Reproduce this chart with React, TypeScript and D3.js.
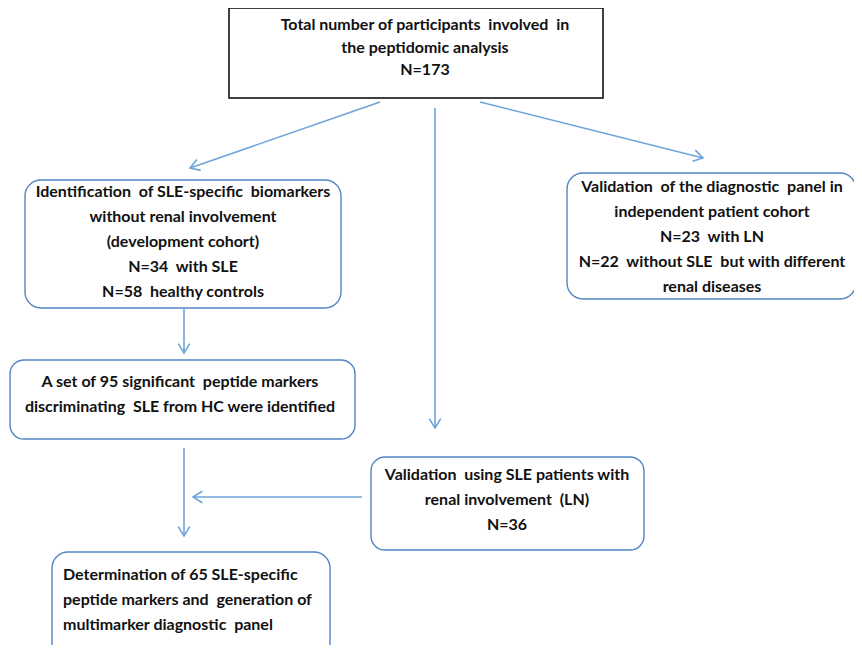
import React, { useEffect, useRef } from "react";
import * as d3 from "d3";

// box texts
const totalLines = ["Total number of participants  involved  in", "the peptidomic analysis", "N=173"];
const devLines = [
  "Identification  of SLE-specific  biomarkers",
  "without renal involvement",
  "(development cohort)",
  "N=34  with SLE",
  "N=58  healthy controls",
];
const indepLines = [
  "Validation  of the diagnostic  panel in",
  "independent patient cohort",
  "N=23  with LN",
  "N=22  without SLE  but with different",
  "renal diseases",
];
const markerLines = ["A set of 95 significant  peptide markers", "discriminating  SLE from HC were identified"];
const lnLines = ["Validation  using SLE patients with", "renal involvement  (LN)", "N=36"];
const finalLines = ["Determination of 65 SLE-specific", "peptide markers and  generation of", "multimarker diagnostic  panel"];

// layout (x, y, w, h, first text baseline, line step, text anchor x)
const boxes = [
  { id: "total", lines: totalLines, x: 229, y: 8, w: 374, h: 90, rx: 0, ty: 30, step: 22.5, tx: 425, anchor: "middle" },
  { id: "dev", lines: devLines, x: 25, y: 180, w: 316, h: 128, rx: 16, ty: 197, step: 25, tx: 183, anchor: "middle" },
  { id: "indep", lines: indepLines, x: 567, y: 173, w: 289, h: 126, rx: 16, ty: 192, step: 25, tx: 712, anchor: "middle" },
  { id: "markers", lines: markerLines, x: 10, y: 360, w: 345, h: 79, rx: 14, ty: 387, step: 25, tx: 180, anchor: "middle" },
  { id: "ln", lines: lnLines, x: 371, y: 457, w: 273, h: 93, rx: 14, ty: 480, step: 25, tx: 507, anchor: "middle" },
  { id: "final", lines: finalLines, x: 52, y: 552, w: 278, h: 120, rx: 16, ty: 580, step: 25, tx: 63, anchor: "start" },
];

const arrows: [number, number][][] = [
  [[380, 102], [190, 168]],
  [[435, 108], [435, 428]],
  [[480, 102], [703, 158]],
  [[184, 307], [184, 353]],
  [[184, 448], [184, 536]],
  [[362, 497], [193, 497]],
];

const W = 862;
const H = 653;
const lineColor = "#6ea4da";
const boxColor = "#5285c2";
const font = "Lato, 'Open Sans', sans-serif";

export default function App() {
  const ref = useRef<SVGSVGElement>(null);

  useEffect(() => {
    const svg = d3.select(ref.current);
    svg.selectAll("*").remove();

    const line = d3.line();

    const g = svg.selectAll("g.box").data(boxes).enter().append("g").attr("class", "box");
    g.append("rect")
      .attr("x", (d) => d.x)
      .attr("y", (d) => d.y)
      .attr("width", (d) => d.w)
      .attr("height", (d) => d.h)
      .attr("rx", (d) => d.rx)
      .attr("fill", "white")
      .attr("stroke", (d) => (d.rx ? boxColor : "#111"))
      .attr("stroke-width", (d) => (d.rx ? 1.4 : 1.6));

    g.each(function (d) {
      d3.select(this)
        .selectAll("text")
        .data(d.lines)
        .enter()
        .append("text")
        .attr("x", d.tx)
        .attr("y", (_, i) => d.ty + i * d.step)
        .attr("text-anchor", d.anchor)
        .attr("font-family", font)
        .attr("font-weight", "bold")
        .attr("font-size", 16)
        .attr("fill", "#111")
        .style("white-space", "pre")
        .text((t) => t);
    });

    const a = svg.selectAll("g.arrow").data(arrows).enter().append("g").attr("class", "arrow");
    a.append("path")
      .attr("d", (d) => line(d))
      .attr("fill", "none")
      .attr("stroke", lineColor)
      .attr("stroke-width", 1.6);
    a.append("path")
      .attr("d", (d) => {
        const [x0, y0] = d[0];
        const [x1, y1] = d[1];
        const ang = Math.atan2(y1 - y0, x1 - x0);
        const len = 11;
        const spread = 0.55;
        const p1: [number, number] = [x1 - len * Math.cos(ang - spread), y1 - len * Math.sin(ang - spread)];
        const p2: [number, number] = [x1 - len * Math.cos(ang + spread), y1 - len * Math.sin(ang + spread)];
        return line([p1, [x1, y1], p2]);
      })
      .attr("fill", "none")
      .attr("stroke", lineColor)
      .attr("stroke-width", 1.6);
  }, []);

  return (
    <div style={{ margin: -8, width: W, height: H, overflow: "hidden", background: "white" }}>
      <svg ref={ref} width={W} height={H} />
    </div>
  );
}
